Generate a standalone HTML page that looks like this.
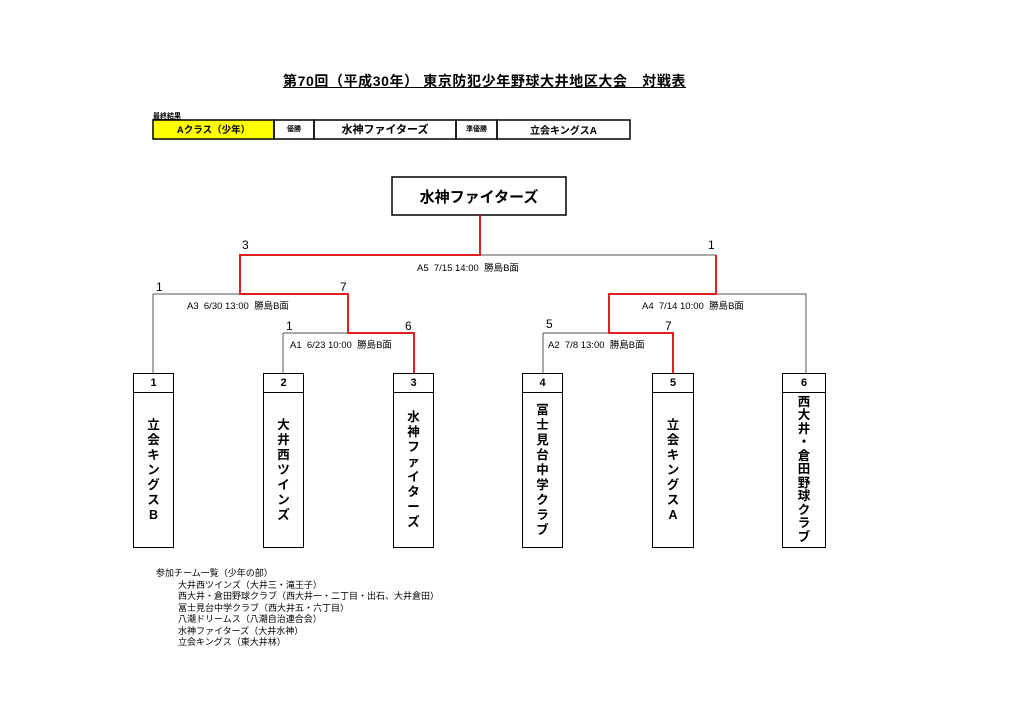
<!DOCTYPE html>
<html><head><meta charset="utf-8"><style>
body{margin:0;background:#fff;}
#p{position:relative;width:1024px;height:724px;overflow:hidden;font-family:"Liberation Sans","Noto Sans CJK JP",sans-serif;color:#000;}
.a{position:absolute;white-space:nowrap;}
.t{position:absolute;left:0;top:0;}
.box{position:absolute;top:373px;height:175px;border:1.5px solid #000;box-sizing:border-box;background:#fff;}
.num{height:18px;border-bottom:1.5px solid #000;text-align:center;font-weight:bold;font-size:11px;line-height:18px;}
.nm{position:absolute;left:0;right:0;top:19px;bottom:0;display:flex;flex-direction:column;align-items:center;justify-content:center;font-weight:bold;font-size:12.5px;line-height:15px;}
.nm span{display:block;height:15px;text-align:center;}
.nm.c span{height:13.5px;line-height:13.5px;}
.s{font-size:12px;}
.l{font-size:9.5px;}
</style></head><body><div id="p">
<div class="a" style="left:283px;top:71px;font-size:14px;letter-spacing:0.6px;font-weight:bold;text-decoration:underline;">第70回（平成30年） 東京防犯少年野球大井地区大会　対戦表</div>
<div class="a" style="left:153px;top:111px;font-size:7px;font-weight:bold;text-decoration:underline;">最終結果</div>
<svg class="t" width="1024" height="724">
<g stroke="#000" stroke-width="1.5" fill="none">
<rect x="153" y="120" width="121" height="19" fill="#ffff00"/>
<rect x="274" y="120" width="40" height="19"/>
<rect x="314" y="120" width="142" height="19"/>
<rect x="456" y="120" width="41" height="19"/>
<rect x="497" y="120" width="133" height="19"/>
<rect x="392" y="177" width="174" height="38"/>
</g>
<g stroke="#555" stroke-width="1" fill="none">
<path d="M480 255H716"/>
<path d="M153 294H240M153 294V373"/>
<path d="M283 333H348M283 333V373"/>
<path d="M716 294H806V373"/>
<path d="M543 333H609M543 333V373"/>
</g>
<g stroke="#e02020" stroke-width="2" fill="none">
<path d="M480 215V255H240V294H348V333H414V373"/>
<path d="M716 255V294H609V333H673V373"/>
</g>
</svg>
<div class="a" style="left:153px;top:122px;width:121px;text-align:center;font-size:9.5px;font-weight:bold;">Aクラス（少年）</div>
<div class="a" style="left:274px;top:124px;width:40px;text-align:center;font-size:7px;font-weight:bold;">優勝</div>
<div class="a" style="left:314px;top:121px;width:142px;text-align:center;font-size:11px;font-weight:bold;">水神ファイターズ</div>
<div class="a" style="left:456px;top:124px;width:41px;text-align:center;font-size:7px;font-weight:bold;">準優勝</div>
<div class="a" style="left:497px;top:122px;width:133px;text-align:center;font-size:10px;font-weight:bold;">立会キングスA</div>
<div class="a" style="left:392px;top:186px;width:174px;text-align:center;font-size:15px;font-weight:bold;">水神ファイターズ</div>
<div class="a s" style="left:242px;top:238px;">3</div>
<div class="a s" style="left:708px;top:238px;">1</div>
<div class="a l" style="left:417px;top:260px;">A5&nbsp;&nbsp;7/15 14:00&nbsp;&nbsp;勝島B面</div>
<div class="a s" style="left:156px;top:280px;">1</div>
<div class="a s" style="left:340px;top:280px;">7</div>
<div class="a l" style="left:187px;top:298px;">A3&nbsp;&nbsp;6/30 13:00&nbsp;&nbsp;勝島B面</div>
<div class="a l" style="left:642px;top:298px;">A4&nbsp;&nbsp;7/14 10:00&nbsp;&nbsp;勝島B面</div>
<div class="a s" style="left:286px;top:319px;">1</div>
<div class="a s" style="left:405px;top:319px;">6</div>
<div class="a s" style="left:546px;top:317px;">5</div>
<div class="a s" style="left:665px;top:319px;">7</div>
<div class="a l" style="left:290px;top:337px;">A1&nbsp;&nbsp;6/23 10:00&nbsp;&nbsp;勝島B面</div>
<div class="a l" style="left:548px;top:337px;">A2&nbsp;&nbsp;7/8 13:00&nbsp;&nbsp;勝島B面</div>

<div class="box" style="left:133px;width:41px;"><div class="num">1</div><div class="nm"><span>立</span><span>会</span><span>キ</span><span>ン</span><span>グ</span><span>ス</span><span>B</span></div></div>
<div class="box" style="left:263px;width:41px;"><div class="num">2</div><div class="nm"><span>大</span><span>井</span><span>西</span><span>ツ</span><span>イ</span><span>ン</span><span>ズ</span></div></div>
<div class="box" style="left:393px;width:41px;"><div class="num">3</div><div class="nm"><span>水</span><span>神</span><span>フ</span><span>ァ</span><span>イ</span><span>タ</span><span>ー</span><span>ズ</span></div></div>
<div class="box" style="left:522px;width:41px;"><div class="num">4</div><div class="nm"><span>冨</span><span>士</span><span>見</span><span>台</span><span>中</span><span>学</span><span>ク</span><span>ラ</span><span>ブ</span></div></div>
<div class="box" style="left:652px;width:42px;"><div class="num">5</div><div class="nm"><span>立</span><span>会</span><span>キ</span><span>ン</span><span>グ</span><span>ス</span><span>A</span></div></div>
<div class="box" style="left:782px;width:44px;"><div class="num">6</div><div class="nm c"><span>西</span><span>大</span><span>井</span><span>・</span><span>倉</span><span>田</span><span>野</span><span>球</span><span>ク</span><span>ラ</span><span>ブ</span></div></div>

<div class="a" style="left:156px;top:568px;font-size:9px;line-height:11.5px;">参加チーム一覧（少年の部）<br>
<span style="padding-left:22px">大井西ツインズ（大井三・滝王子）</span><br>
<span style="padding-left:22px">西大井・倉田野球クラブ（西大井一・二丁目・出石、大井倉田）</span><br>
<span style="padding-left:22px">冨士見台中学クラブ（西大井五・六丁目）</span><br>
<span style="padding-left:22px">八潮ドリームス（八潮自治連合会）</span><br>
<span style="padding-left:22px">水神ファイターズ（大井水神）</span><br>
<span style="padding-left:22px">立会キングス（東大井林）</span></div>
</div></body></html>
